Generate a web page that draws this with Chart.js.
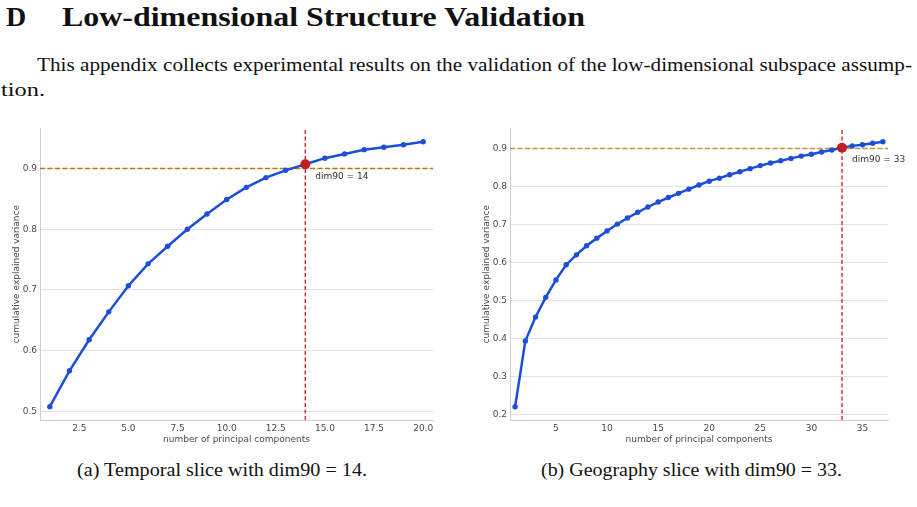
<!DOCTYPE html>
<html>
<head>
<meta charset="utf-8">
<script src="https://cdn.jsdelivr.net/npm/chart.js@4.4.1/dist/chart.umd.min.js"></script>
<style>
  body { margin: 0; background: #fff; width: 917px; height: 507px; overflow: hidden; position: relative; }
  .tx { position: absolute; font-family: "Liberation Serif", serif; color: #111; white-space: nowrap; line-height: 1; transform-origin: 0 0; }
  canvas { position: absolute; }
</style>
</head>
<body>
<div class="tx" id="secNum" style="left:6px; top:2.5px; font-size:28px; font-weight:bold;">D</div>
<div class="tx fit" data-w="523" style="left:62px; top:2.5px; font-size:28px; font-weight:bold;">Low-dimensional Structure Validation</div>
<div class="tx fit" data-w="875" style="left:37px; top:54.5px; font-size:19.5px;">This appendix collects experimental results on the validation of the low-dimensional subspace assump-</div>
<div class="tx fit" data-w="44" style="left:1px; top:79.5px; font-size:19.5px;">tion.</div>

<canvas id="temporalChart" width="445" height="330" style="left:0px; top:120px;"></canvas>
<canvas id="geoChart" width="457" height="330" style="left:460px; top:120px;"></canvas>

<div class="tx fit" data-w="290" style="left:77px; top:460px; font-size:19.5px;">(a) Temporal slice with dim90 = 14.</div>
<div class="tx fit" data-w="301" style="left:541px; top:460px; font-size:19.5px;">(b) Geography slice with dim90 = 33.</div>

<script>
// number of principal components vs cumulative explained variance
const tempComponents = [1, 2, 3, 4, 5, 6, 7, 8, 9, 10, 11, 12, 13, 14, 15, 16, 17, 18, 19, 20];
const tempVariance = [0.508, 0.567, 0.618, 0.664, 0.707, 0.743, 0.772, 0.800, 0.825, 0.849,
                      0.869, 0.885, 0.897, 0.907, 0.917, 0.924, 0.931, 0.935, 0.939, 0.944];

const geoComponents = [1, 2, 3, 4, 5, 6, 7, 8, 9, 10, 11, 12, 13, 14, 15, 16, 17, 18, 19, 20,
                       21, 22, 23, 24, 25, 26, 27, 28, 29, 30, 31, 32, 33, 34, 35, 36, 37];
const geoVariance = [0.220, 0.393, 0.456, 0.508, 0.554, 0.594, 0.620, 0.644, 0.664, 0.683,
                     0.701, 0.717, 0.732, 0.746, 0.759, 0.771, 0.782, 0.793, 0.804, 0.814,
                     0.822, 0.831, 0.839, 0.847, 0.855, 0.862, 0.868, 0.874, 0.880, 0.885,
                     0.891, 0.896, 0.902, 0.907, 0.910, 0.914, 0.918];

const tempXTicks = [2.5, 5, 7.5, 10, 12.5, 15, 17.5, 20];
const tempYTicks = [0.5, 0.6, 0.7, 0.8, 0.9];
const geoXTicks = [5, 10, 15, 20, 25, 30, 35];
const geoYTicks = [0.2, 0.3, 0.4, 0.5, 0.6, 0.7, 0.8, 0.9];

const threshold = 0.9;
const tempDim90 = 14;
const geoDim90 = 33;

// stretch the serif text so it spans the same width as the typeset page
document.querySelectorAll('.fit').forEach(el => {
    el.style.display = 'inline-block';
    const w = el.getBoundingClientRect().width;
    el.style.transform = 'scaleX(' + (parseFloat(el.dataset.w) / w) + ')';
});

const tickFont = { family: 'DejaVu Sans', size: 9 };
const tickColor = '#4a4a4a';

// draws the "dim90 = k" note next to the marker
const dimLabel = {
    id: 'dimLabel',
    afterDatasetsDraw(chart) {
        const o = chart.options.plugins.dimLabel;
        const { ctx, scales: { x, y } } = chart;
        ctx.save();
        ctx.font = '9px "DejaVu Sans"';
        ctx.fillStyle = '#333';
        ctx.textBaseline = 'middle';
        ctx.fillText(o.text, x.getPixelForValue(o.dim) + 10, y.getPixelForValue(o.value) + 12);
        ctx.restore();
    }
};

function makeChart(id, xs, ys, xTicks, yTicks, dim, cfg) {
    const points = xs.map((v, i) => ({ x: v, y: ys[i] }));
    const dimValue = ys[xs.indexOf(dim)];

    return new Chart(document.getElementById(id), {
        type: 'scatter',
        data: {
            datasets: [
                {   // threshold crossing marker
                    data: [{ x: dim, y: dimValue }],
                    backgroundColor: '#c41f1f',
                    borderColor: '#c41f1f',
                    pointRadius: 5,
                    pointBorderWidth: 0,
                    order: 0
                },
                {
                    data: points,
                    showLine: true,
                    borderColor: '#1d4ed8',
                    backgroundColor: '#1d4ed8',
                    borderWidth: 2.5,
                    pointRadius: 2.7,
                    pointBorderWidth: 0,
                    order: 1
                },
                {   // 90% threshold
                    data: [{ x: cfg.xMin, y: threshold }, { x: cfg.xMax, y: threshold }],
                    showLine: true,
                    borderColor: cfg.hColor,
                    borderWidth: 1.6,
                    borderDash: [5, 2.5],
                    pointRadius: 0,
                    order: 2
                },
                {   // dim90 vertical
                    data: [{ x: dim, y: cfg.yMin }, { x: dim, y: cfg.yMax }],
                    showLine: true,
                    borderColor: '#cc1a1a',
                    borderWidth: 1.3,
                    borderDash: [4, 2.5],
                    pointRadius: 0,
                    order: 3
                }
            ]
        },
        options: {
            responsive: false,
            animation: false,
            layout: { padding: { left: 0, right: cfg.padRight, top: 6, bottom: 0 } },
            plugins: {
                legend: { display: false },
                tooltip: { enabled: false },
                dimLabel: { text: 'dim90 = ' + dim, dim: dim, value: dimValue }
            },
            scales: {
                x: {
                    type: 'linear',
                    min: cfg.xMin,
                    max: cfg.xMax,
                    afterBuildTicks: s => { s.ticks = xTicks.map(v => ({ value: v })); },
                    afterFit: s => { s.height = 30; },
                    grid: { display: false, drawTicks: false },
                    border: { display: true, color: '#cdd0d8', width: 1 },
                    ticks: {
                        font: tickFont, color: tickColor, padding: 3, maxRotation: 0, autoSkip: false,
                        callback: v => cfg.xDecimals ? v.toFixed(1) : String(v)
                    },
                    title: {
                        display: true, text: 'number of principal components',
                        font: tickFont, color: tickColor, padding: { top: 0, bottom: 5 }
                    }
                },
                y: {
                    type: 'linear',
                    min: cfg.yMin,
                    max: cfg.yMax,
                    afterBuildTicks: s => { s.ticks = yTicks.map(v => ({ value: v })); },
                    afterFit: s => { s.width = cfg.yWidth; },
                    grid: { color: '#dfe2ea', lineWidth: 1, drawTicks: false },
                    border: { display: true, color: '#cdd0d8', width: 1 },
                    ticks: {
                        font: tickFont, color: tickColor, padding: 3,
                        callback: v => v.toFixed(1)
                    },
                    title: {
                        display: true, text: 'cumulative explained variance',
                        font: tickFont, color: tickColor, padding: { top: cfg.titlePad, bottom: 0 }
                    }
                }
            }
        },
        plugins: [dimLabel]
    });
}

makeChart('temporalChart', tempComponents, tempVariance, tempXTicks, tempYTicks, tempDim90, {
    xMin: 0.5, xMax: 20.5, yMin: 0.486, yMax: 0.966,
    xDecimals: true, yWidth: 40, padRight: 12, titlePad: 11, hColor: '#c07508'
});

makeChart('geoChart', geoComponents, geoVariance, geoXTicks, geoYTicks, geoDim90, {
    xMin: 0.5, xMax: 37.5, yMin: 0.185, yMax: 0.953,
    xDecimals: false, yWidth: 50, padRight: 29, titlePad: 21, hColor: '#cc9040'
});
</script>
</body>
</html>
